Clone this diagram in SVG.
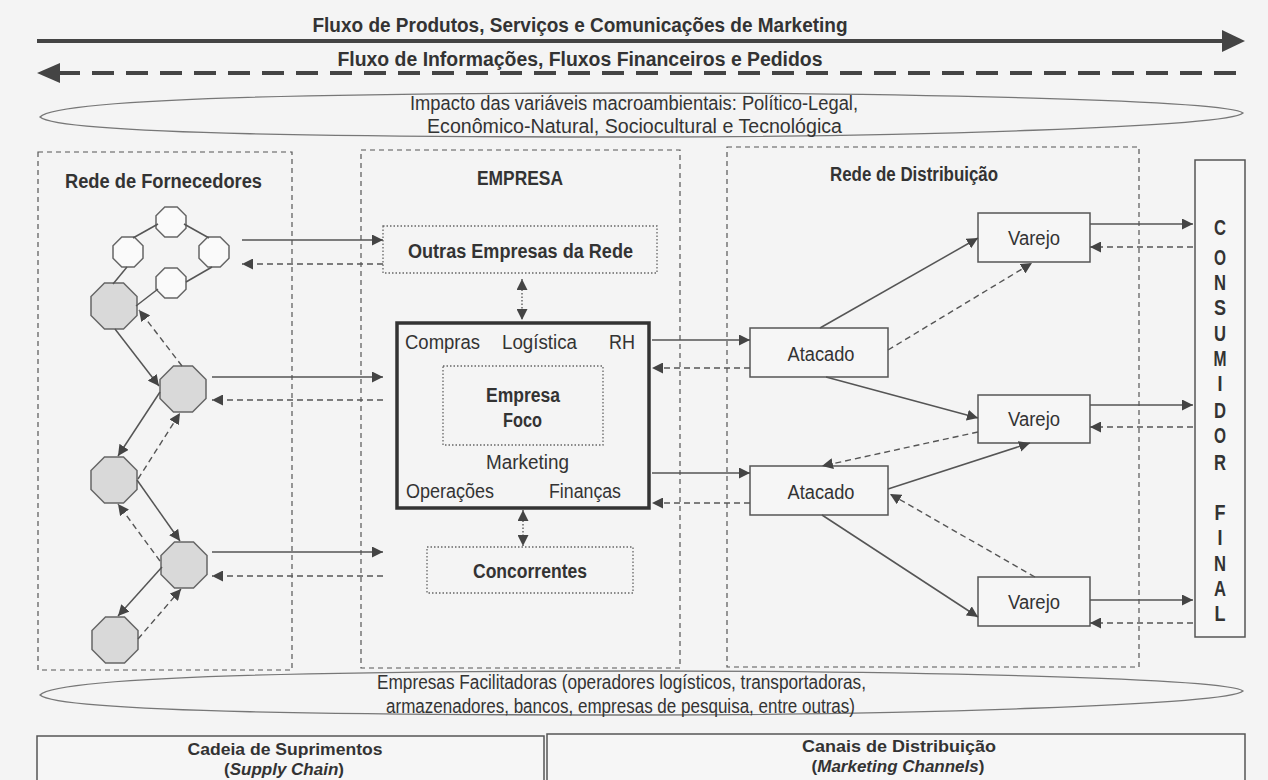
<svg xmlns="http://www.w3.org/2000/svg" width="1268" height="780" viewBox="0 0 1268 780">
<defs>
<style>
text{font-family:"Liberation Sans",Arial,sans-serif;fill:#333}
.b{font-weight:bold}
.t17{font-size:20px}
.t18{font-size:20px}
.sm{font-size:17px}
.cl{font-size:22px}
.c{text-anchor:middle}
.frame{fill:none;stroke:#555;stroke-width:1.2;stroke-dasharray:5,4}
.dot{fill:none;stroke:#666;stroke-width:1.3;stroke-dasharray:1.5,2}
.box{fill:#f6f6f6;stroke:#555;stroke-width:1.5}
.ln{fill:none;stroke:#555;stroke-width:1.5}
.da{fill:none;stroke:#555;stroke-width:1.4;stroke-dasharray:6,4}
.dt{fill:none;stroke:#666;stroke-width:1.5;stroke-dasharray:1.5,2}
.ow{fill:#fafafa;stroke:#666;stroke-width:1.5}
.og{fill:#d9d9d9;stroke:#666;stroke-width:1.5}
.ell{fill:none;stroke:#777;stroke-width:1.3}
</style>
<marker id="ah" viewBox="0 0 10 10" refX="10" refY="5" markerWidth="11" markerHeight="11" markerUnits="userSpaceOnUse" orient="auto-start-reverse">
<path d="M0,0 L10,5 L0,10 Z" fill="#444"/>
</marker>
<polygon id="octS" points="-6.2,-15 6.2,-15 15,-6.2 15,6.2 6.2,15 -6.2,15 -15,6.2 -15,-6.2"/>
<polygon id="octL" points="-9.5,-23 9.5,-23 23,-9.5 23,9.5 9.5,23 -9.5,23 -23,9.5 -23,-9.5"/>
</defs>
<rect x="0" y="0" width="1268" height="780" fill="#f4f4f4"/>

<g id="flows">
<text class="b t18 c" x="580" y="32" textLength="535" lengthAdjust="spacingAndGlyphs">Fluxo de Produtos, Serviços e Comunicações de Marketing</text>
<line x1="37" y1="41" x2="1224" y2="41" stroke="#444" stroke-width="4"/>
<path d="M1245,41 L1222,30 L1222,52 Z" fill="#444"/>
<text class="b t18 c" x="580" y="66" textLength="485" lengthAdjust="spacingAndGlyphs">Fluxo de Informações, Fluxos Financeiros e Pedidos</text>
<line x1="58" y1="73" x2="1245" y2="73" stroke="#444" stroke-width="4" stroke-dasharray="22,12"/>
<path d="M37,73 L60,63 L60,83 Z" fill="#444"/>
</g>

<g id="macro">
<path class="ell" d="M40,117 C60,96 400,93 640,93 C900,93 1228,100 1243,113 C1228,127 900,137 640,137 C380,137 60,135 40,117 Z"/>
<text class="t17 c" x="634" y="110" textLength="448" lengthAdjust="spacingAndGlyphs">Impacto das variáveis macroambientais: Político-Legal,</text>
<text class="t17 c" x="634.5" y="133" textLength="415" lengthAdjust="spacingAndGlyphs">Econômico-Natural, Sociocultural e Tecnológica</text>
</g>

<g id="fornecedores">
<rect class="frame" x="38" y="152" width="254" height="518"/>
<text class="b t17 c" x="163.5" y="188" textLength="197" lengthAdjust="spacingAndGlyphs">Rede de Fornecedores</text>
</g>
<g id="w1"><use href="#octS" class="ow" x="171" y="222"/></g>
<g id="w2"><use href="#octS" class="ow" x="128" y="252"/></g>
<g id="w3"><use href="#octS" class="ow" x="214" y="252"/></g>
<g id="w4"><use href="#octS" class="ow" x="171" y="283"/></g>
<g id="g1"><use href="#octL" class="og" x="114" y="306"/></g>
<g id="g2"><use href="#octL" class="og" x="183" y="389"/></g>
<g id="g3"><use href="#octL" class="og" x="114" y="480"/></g>
<g id="g4"><use href="#octL" class="og" x="184" y="565"/></g>
<g id="g5"><use href="#octL" class="og" x="115" y="640"/></g>

<g id="empresa">
<rect class="frame" x="361" y="150" width="319" height="518"/>
<text class="b t17 c" x="520" y="185" textLength="86" lengthAdjust="spacingAndGlyphs">EMPRESA</text>
</g>
<g id="outras">
<rect class="dot" x="383" y="226" width="274" height="47"/>
<text class="b t17 c" x="520.5" y="258" textLength="225" lengthAdjust="spacingAndGlyphs">Outras Empresas da Rede</text>
</g>
<g id="empresa-main">
<rect x="397" y="323" width="252" height="185" fill="none" stroke="#333" stroke-width="3.5"/>
<text class="t17" x="405" y="349" textLength="75" lengthAdjust="spacingAndGlyphs">Compras</text>
<text class="t17" x="502" y="349" textLength="75" lengthAdjust="spacingAndGlyphs">Logística</text>
<text class="t17" x="609" y="349" textLength="26" lengthAdjust="spacingAndGlyphs">RH</text>
<text class="t17 c" x="527.5" y="469" textLength="83" lengthAdjust="spacingAndGlyphs">Marketing</text>
<text class="t17" x="406" y="498" textLength="88" lengthAdjust="spacingAndGlyphs">Operações</text>
<text class="t17" x="549" y="498" textLength="72" lengthAdjust="spacingAndGlyphs">Finanças</text>
</g>
<g id="foco">
<rect class="dot" x="443" y="366" width="160" height="79"/>
<text class="b t17 c" x="523" y="402" textLength="74" lengthAdjust="spacingAndGlyphs">Empresa</text>
<text class="b t17 c" x="522.5" y="427" textLength="39" lengthAdjust="spacingAndGlyphs">Foco</text>
</g>
<g id="concorrentes">
<rect class="dot" x="427" y="547" width="206" height="46"/>
<text class="b t17 c" x="530" y="578" textLength="114" lengthAdjust="spacingAndGlyphs">Concorrentes</text>
</g>

<g id="distribuicao">
<rect class="frame" x="727" y="147" width="412" height="520"/>
<text class="b t17 c" x="914" y="181" textLength="168" lengthAdjust="spacingAndGlyphs">Rede de Distribuição</text>
</g>
<g id="atacado1"><rect class="box" x="750" y="328" width="138" height="49"/><text class="t17 c" x="821" y="361" textLength="67" lengthAdjust="spacingAndGlyphs">Atacado</text></g>
<g id="atacado2"><rect class="box" x="750" y="466" width="138" height="49"/><text class="t17 c" x="821" y="499" textLength="67" lengthAdjust="spacingAndGlyphs">Atacado</text></g>
<g id="varejo1"><rect class="box" x="978" y="213" width="112" height="49"/><text class="t17 c" x="1034" y="245" textLength="52" lengthAdjust="spacingAndGlyphs">Varejo</text></g>
<g id="varejo2"><rect class="box" x="978" y="395" width="112" height="48"/><text class="t17 c" x="1034" y="426" textLength="52" lengthAdjust="spacingAndGlyphs">Varejo</text></g>
<g id="varejo3"><rect class="box" x="978" y="577" width="112" height="49"/><text class="t17 c" x="1034" y="609" textLength="52" lengthAdjust="spacingAndGlyphs">Varejo</text></g>

<g id="consumidor">
<rect class="box" x="1195" y="160" width="50" height="477"/>
<g class="b cl c">
<text x="1220" y="235" textLength="12" lengthAdjust="spacingAndGlyphs">C</text>
<text x="1220" y="265" textLength="12" lengthAdjust="spacingAndGlyphs">O</text>
<text x="1220" y="290" textLength="12" lengthAdjust="spacingAndGlyphs">N</text>
<text x="1220" y="315" textLength="12" lengthAdjust="spacingAndGlyphs">S</text>
<text x="1220" y="341" textLength="12" lengthAdjust="spacingAndGlyphs">U</text>
<text x="1220" y="366" textLength="13" lengthAdjust="spacingAndGlyphs">M</text>
<text x="1220" y="391" textLength="5" lengthAdjust="spacingAndGlyphs">I</text>
<text x="1220" y="418" textLength="12" lengthAdjust="spacingAndGlyphs">D</text>
<text x="1220" y="443" textLength="12" lengthAdjust="spacingAndGlyphs">O</text>
<text x="1220" y="470" textLength="12" lengthAdjust="spacingAndGlyphs">R</text>
<text x="1220" y="520" textLength="11" lengthAdjust="spacingAndGlyphs">F</text>
<text x="1220" y="545" textLength="5" lengthAdjust="spacingAndGlyphs">I</text>
<text x="1220" y="571" textLength="12" lengthAdjust="spacingAndGlyphs">N</text>
<text x="1220" y="596" textLength="12" lengthAdjust="spacingAndGlyphs">A</text>
<text x="1220" y="621" textLength="11" lengthAdjust="spacingAndGlyphs">L</text>
</g>
</g>

<g id="facilitadoras">
<path class="ell" d="M40,695 C60,674 400,671 640,671 C900,671 1228,678 1243,691 C1228,705 900,715 640,715 C380,715 60,713 40,695 Z"/>
<text class="t17 c" x="621.5" y="689" textLength="489" lengthAdjust="spacingAndGlyphs">Empresas Facilitadoras (operadores logísticos, transportadoras,</text>
<text class="t17 c" x="620.5" y="713" textLength="469" lengthAdjust="spacingAndGlyphs">armazenadores, bancos, empresas de pesquisa, entre outras)</text>
</g>

<g id="cadeia">
<rect class="box" x="37" y="736" width="507" height="60"/>
<text class="b sm c" x="285" y="755" textLength="195" lengthAdjust="spacingAndGlyphs">Cadeia de Suprimentos</text>
<text class="b sm c" x="284" y="775">(<tspan font-style="italic">Supply Chain</tspan>)</text>
</g>
<g id="canais">
<rect class="box" x="547" y="734" width="698" height="60"/>
<text class="b sm c" x="899" y="752" textLength="194" lengthAdjust="spacingAndGlyphs">Canais de Distribuição</text>
<text class="b sm c" x="898" y="772">(<tspan font-style="italic">Marketing Channels</tspan>)</text>
</g>

<g id="connectors">
<path class="ln" d="M158,224 L133,238"/>
<path class="ln" d="M184,224 L209,238"/>
<path class="ln" d="M127,267 L113,284"/>
<path class="ln" d="M212,267 L186,282"/>
<path class="ln" d="M158,289 L136,306"/>
<path class="ln" d="M115,329 L159,386" marker-end="url(#ah)"/>
<path class="da" d="M182,366 L139,310" marker-end="url(#ah)"/>
<path class="ln" d="M160,392 L118,456" marker-end="url(#ah)"/>
<path class="da" d="M138,479 L180,413" marker-end="url(#ah)"/>
<path class="ln" d="M137,480 L180,541" marker-end="url(#ah)"/>
<path class="da" d="M160,561 L118,504" marker-end="url(#ah)"/>
<path class="ln" d="M162,567 L118,616" marker-end="url(#ah)"/>
<path class="da" d="M138,639 L181,589" marker-end="url(#ah)"/>
<path class="ln" d="M242,240 L383,240" marker-end="url(#ah)"/>
<path class="da" d="M383,264 L242,264" marker-end="url(#ah)"/>
<path class="ln" d="M212,377 L383,377" marker-end="url(#ah)"/>
<path class="da" d="M383,400 L212,400" marker-end="url(#ah)"/>
<path class="ln" d="M212,552 L383,552" marker-end="url(#ah)"/>
<path class="da" d="M383,576 L212,576" marker-end="url(#ah)"/>
<path class="dt" d="M522,279 L522,320" marker-start="url(#ah)" marker-end="url(#ah)"/>
<path class="dt" d="M523,510 L523,546" marker-start="url(#ah)" marker-end="url(#ah)"/>
<path class="ln" d="M652,340 L750,340" marker-end="url(#ah)"/>
<path class="da" d="M750,368 L652,368" marker-end="url(#ah)"/>
<path class="ln" d="M652,473 L750,473" marker-end="url(#ah)"/>
<path class="da" d="M750,503 L652,503" marker-end="url(#ah)"/>
<path class="ln" d="M820,328 L978,238" marker-end="url(#ah)"/>
<path class="da" d="M888,350 L1032,263" marker-end="url(#ah)"/>
<path class="ln" d="M826,377 L978,418" marker-end="url(#ah)"/>
<path class="da" d="M978,432 L822,466" marker-end="url(#ah)"/>
<path class="ln" d="M888,489 L1030,443" marker-end="url(#ah)"/>
<path class="da" d="M1035,577 L890,494" marker-end="url(#ah)"/>
<path class="ln" d="M822,515 L978,617" marker-end="url(#ah)"/>
<path class="ln" d="M1090,224 L1193,224" marker-end="url(#ah)"/>
<path class="da" d="M1193,247 L1090,247" marker-end="url(#ah)"/>
<path class="ln" d="M1090,405 L1193,405" marker-end="url(#ah)"/>
<path class="da" d="M1193,427 L1090,427" marker-end="url(#ah)"/>
<path class="ln" d="M1090,600 L1193,600" marker-end="url(#ah)"/>
<path class="da" d="M1193,623 L1090,623" marker-end="url(#ah)"/>
</g>
</svg>
